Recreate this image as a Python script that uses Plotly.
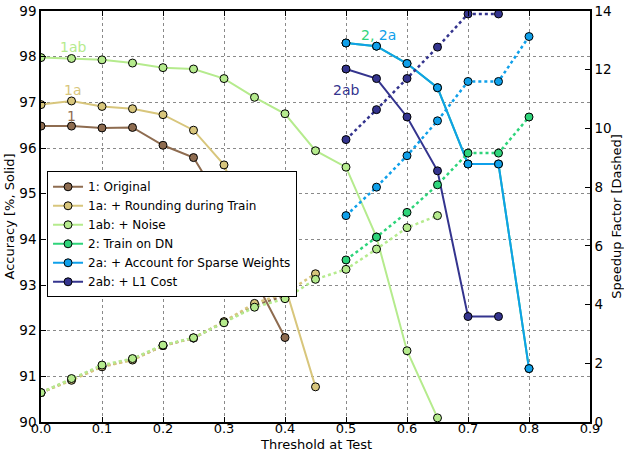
import plotly.graph_objects as go

# ---------------- data ----------------
x1 = [0.0, 0.05, 0.1, 0.15, 0.2, 0.25, 0.3, 0.35, 0.4]
acc_1 = [96.48, 96.48, 96.44, 96.45, 96.06, 95.79, 94.7, 93.13, 91.85]
spd_1 = [1.0, 1.45, 1.9, 2.13, 2.6, 2.86, 3.4, 3.97, 4.3]

x1a = [0.0, 0.05, 0.1, 0.15, 0.2, 0.25, 0.3, 0.35, 0.4, 0.45]
acc_1a = [96.95, 97.03, 96.91, 96.86, 96.73, 96.39, 95.63, 94.0, 92.98, 90.77]
spd_1a = [1.0, 1.42, 1.88, 2.11, 2.6, 2.86, 3.42, 4.04, 4.38, 5.05]

x1ab = [0.0, 0.05, 0.1, 0.15, 0.2, 0.25, 0.3, 0.35, 0.4, 0.45, 0.5, 0.55, 0.6, 0.65]
acc_1ab = [97.98, 97.96, 97.93, 97.86, 97.76, 97.73, 97.52, 97.11, 96.75, 95.94,
           95.58, 94.05, 91.56, 90.09]
spd_1ab = [1.0, 1.48, 1.94, 2.16, 2.62, 2.87, 3.38, 3.91, 4.2, 4.86, 5.2, 5.89, 6.62, 7.03]

x2 = [0.5, 0.55, 0.6, 0.65, 0.7, 0.75, 0.8]
acc_2 = [98.30, 98.23, 97.85, 97.32, 95.65, 95.65, 91.17]
spd_2 = [5.52, 6.30, 7.14, 8.08, 9.16, 9.16, 10.39]

x2a = [0.5, 0.55, 0.6, 0.65, 0.7, 0.75, 0.8]
acc_2a = [98.30, 98.23, 97.85, 97.32, 95.65, 95.65, 91.17]
spd_2a = [7.03, 8.00, 9.07, 10.26, 11.60, 11.60, 13.13]

x2ab = [0.5, 0.55, 0.6, 0.65, 0.7, 0.75]
acc_2ab = [97.73, 97.52, 96.68, 95.50, 92.31, 92.31]
spd_2ab = [9.62, 10.64, 11.70, 12.77, 13.90, 13.90]

names = ["1: Original", "1a: + Rounding during Train", "1ab: + Noise",
         "2: Train on DN", "2a: + Account for Sparse Weights", "2ab: + L1 Cost"]
colors = ["#8E6C50", "#D8C67C", "#B5EB8D", "#2ED47A", "#0FA0EA", "#34348E"]

series = [(x1, acc_1, spd_1), (x1a, acc_1a, spd_1a), (x1ab, acc_1ab, spd_1ab),
          (x2, acc_2, spd_2), (x2a, acc_2a, spd_2a), (x2ab, acc_2ab, spd_2ab)]

FONT = "DejaVu Sans"
fig = go.Figure()

# accuracy (solid) on left axis
for (xs, acc, spd), name, col in zip(series, names, colors):
    fig.add_trace(go.Scatter(
        x=xs, y=acc, mode="lines+markers", name=name,
        line=dict(color=col, width=2),
        marker=dict(size=8, color=col, line=dict(color="black", width=1)),
        yaxis="y", showlegend=True))

# speedup (dotted) on right axis, drawn on top
for (xs, acc, spd), name, col in zip(series, names, colors):
    fig.add_trace(go.Scatter(
        x=xs, y=spd, mode="lines+markers", name=name,
        line=dict(color=col, width=2.5, dash="dot"),
        marker=dict(size=8, color=col, line=dict(color="black", width=1)),
        yaxis="y2", showlegend=False))

labels = [
    dict(x=0.052, y=98.22, text="1ab", color=colors[2]),
    dict(x=0.052, y=97.28, text="1a", color=colors[1]),
    dict(x=0.05, y=96.71, text="1", color=colors[0]),
    dict(x=0.5, y=97.26, text="2ab", color=colors[5]),
]
annotations = []
for a in labels:
    annotations.append(dict(x=a["x"], y=a["y"], xref="x", yref="y", text=a["text"],
                            showarrow=False, font=dict(family=FONT, size=14, color=a["color"])))
annotations.append(dict(
    x=0.554, y=98.47, xref="x", yref="y", showarrow=False,
    text=f"<span style='color:{colors[3]}'>2,</span> <span style='color:{colors[4]}'>2a</span>",
    font=dict(family=FONT, size=14)))
annotations.append(dict(
    x=0.5, y=-22.5 / 411, xref="paper", yref="paper", showarrow=False,
    xanchor="center", yanchor="middle", text="Threshold at Test", borderpad=0,
    font=dict(family=FONT, size=13, color="black")))

fig.update_layout(
    width=624, height=452,
    margin=dict(l=41, r=34, t=11, b=30),
    paper_bgcolor="white", plot_bgcolor="white",
    font=dict(family=FONT, size=13, color="black"),
    annotations=annotations,
    xaxis=dict(range=[0, 0.9], dtick=0.1, tickformat=".1f",
               showline=True, linecolor="black", linewidth=1.5, mirror="ticks",
               ticks="inside", ticklen=5, tickcolor="black",
               showgrid=True, gridcolor="#8a8a8a", griddash="dot", gridwidth=1,
               zeroline=False, tickfont=dict(size=13), ticklabelstandoff=-6,
               automargin=False),
    yaxis=dict(range=[90, 99], dtick=1,
               showline=True, linecolor="black", linewidth=1.5,
               ticks="inside", ticklen=5, tickcolor="black",
               showgrid=True, gridcolor="#8a8a8a", griddash="dot", gridwidth=1,
               zeroline=False, tickfont=dict(size=13.5),
               title=dict(text="Accuracy [%, Solid]", font=dict(size=13), standoff=2),
               automargin=False),
    yaxis2=dict(range=[0, 14], dtick=2, overlaying="y", side="right",
                showline=True, linecolor="black", linewidth=1.5,
                ticks="inside", ticklen=5, tickcolor="black",
                showgrid=False, zeroline=False, tickfont=dict(size=13.5),
                title=dict(text="Speedup Factor [Dashed]", font=dict(size=13), standoff=4),
                automargin=False),
    legend=dict(x=0.011, y=0.61, xanchor="left", yanchor="top",
                bgcolor="white", bordercolor="black", borderwidth=1,
                font=dict(family=FONT, size=12), itemwidth=30,
                tracegroupgap=0),
)

fig.write_html("out.html")
